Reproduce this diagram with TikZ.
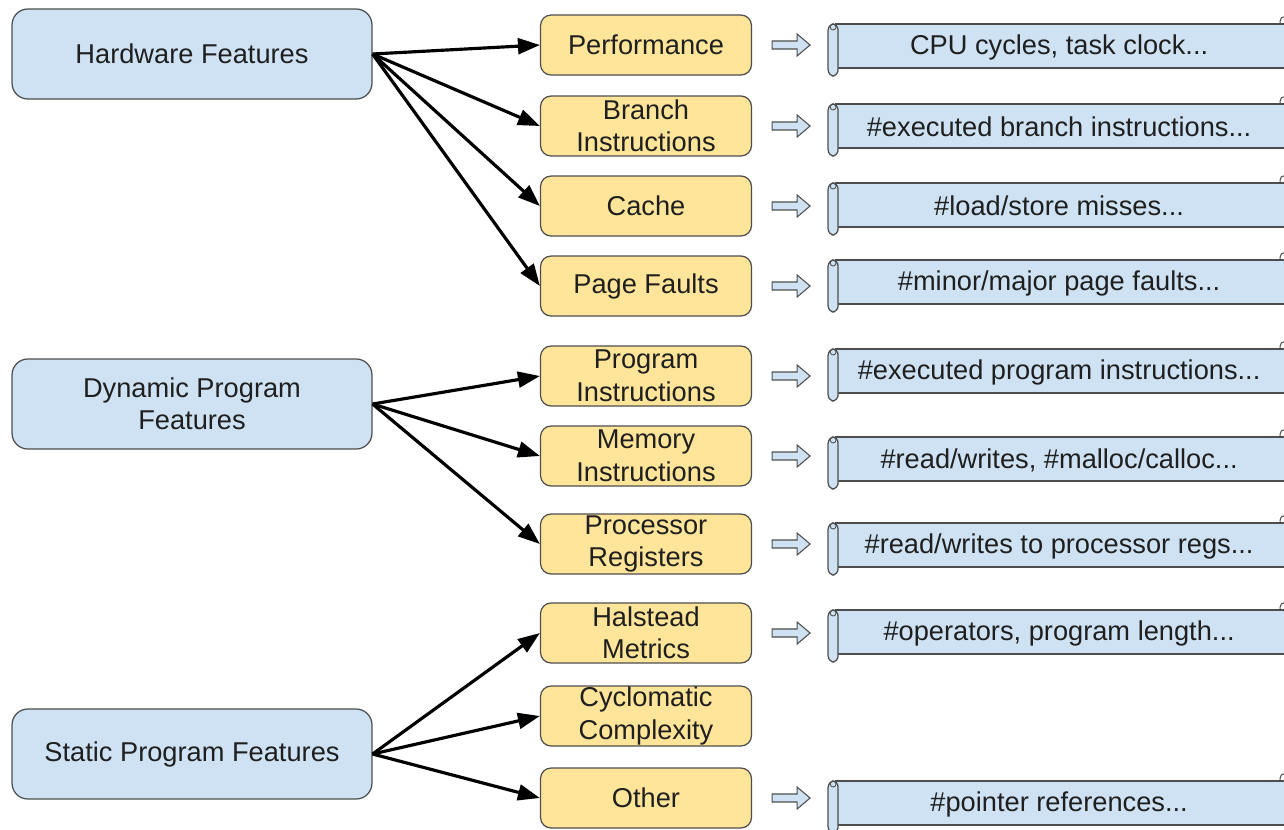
\documentclass[tikz,border=0pt]{standalone}
\usepackage{fontspec}
\setmainfont{Liberation Sans}
\usepackage{xcolor}
\usepackage{tikz}
\usetikzlibrary{positioning, arrows.meta, calc}
\definecolor{featblue}{HTML}{CFE2F3}
\definecolor{catyellow}{HTML}{FFE599}
\definecolor{edgegray}{HTML}{4D4D4D}
\definecolor{textgray}{HTML}{1F1F1F}

\tikzset{
  every node/.style={font=\fontsize{15.5}{18.5}\selectfont, text=textgray},
  feature/.style={fill=featblue, draw=edgegray, line width=0.7pt, rounded corners=9pt,
    minimum width=7.2cm, minimum height=1.8cm, inner sep=0pt, align=center},
  category/.style={fill=catyellow, draw=edgegray, line width=0.7pt, rounded corners=6pt,
    minimum width=4.22cm, minimum height=1.2cm, inner sep=0pt, align=center},
  link/.style={line width=1.8pt, -{Triangle[length=12.5pt, width=9pt]}},
  hollow/.style={fill=featblue, draw=edgegray, line width=0.6pt},
  scrollline/.style={fill=featblue, draw=edgegray, line width=0.7pt}
}

% hollow arrow + scroll to the right of a category box (#2 = vertical shift of the scroll)
\newcommand{\featscroll}[3]{%
  \draw[hollow] ($(#1.east)+(20,-4)$) -- ++(25,0) -- ++(0,-7) -- ++(13,11)
    -- ++(-13,11) -- ++(0,-7) -- ++(-25,0) -- cycle;
  \coordinate (c-#1) at ($(#1.east)+(84,#2)$);
  \draw[scrollline] ($(c-#1)+(0,-22)$) rectangle ($(c-#1)+(470,22)$);
  \draw[scrollline, rounded corners=3.5pt] ($(c-#1)+(-8,-22)$) rectangle ($(c-#1)+(2,30)$);
  \draw[edgegray, line width=0.5pt] ($(c-#1)+(-3,-19)$) circle[radius=1.7pt];
  \draw[edgegray, line width=0.6pt] ($(c-#1)+(444,-22)$) -- ++(0,-3)
    arc[start angle=180, end angle=0, radius=2.5pt];
  \node (s-#1) at ($(c-#1)+(223,1)$) {#3};
}

\begin{document}
\begin{tikzpicture}[x=0.02cm, y=-0.02cm]
  \useasboundingbox (0,0) rectangle (1284,829);
  \clip (0,0) rectangle (1284,829);

  % feature groups
  \node[feature] (hw) at (192,54) {Hardware Features};
  \node[feature] (dyn) at (192,404) {Dynamic Program\\Features};
  \node[feature] (stat) at (192,754) {Static Program Features};

  % categories
  \node[category] (perf) at (646,45) {Performance};
  \node[category] (branch) at (646,126) {Branch\\Instructions};
  \node[category] (cache) at (646,206) {Cache};
  \node[category] (pagef) at (646,286) {Page Faults};
  \node[category] (proginstr) at (646,376) {Program\\Instructions};
  \node[category] (meminstr) at (646,456) {Memory\\Instructions};
  \node[category] (procreg) at (646,544) {Processor\\Registers};
  \node[category] (halstead) at (646,633) {Halstead\\Metrics};
  \node[category] (cyclo) at (646,716) {Cyclomatic\\Complexity};
  \node[category] (other) at (646,798) {Other};

  \foreach \c in {perf, branch, cache, pagef}
    \draw[link] (hw.east) -- (\c.west);
  \foreach \c in {proginstr, meminstr, procreg}
    \draw[link] (dyn.east) -- (\c.west);
  \foreach \c in {halstead, cyclo, other}
    \draw[link] (stat.east) -- (\c.west);

  % examples
  \featscroll{perf}{1}{CPU cycles, task clock...}
  \featscroll{branch}{0}{\#executed branch instructions...}
  \featscroll{cache}{-1}{\#load/store misses...}
  \featscroll{pagef}{-4}{\#minor/major page faults...}
  \featscroll{proginstr}{-5}{\#executed program instructions...}
  \featscroll{meminstr}{3}{\#read/writes, \#malloc/calloc...}
  \featscroll{procreg}{1}{\#read/writes to processor regs...}
  \featscroll{halstead}{-1}{\#operators, program length...}
  \featscroll{other}{5}{\#pointer references...}
\end{tikzpicture}
\end{document}
